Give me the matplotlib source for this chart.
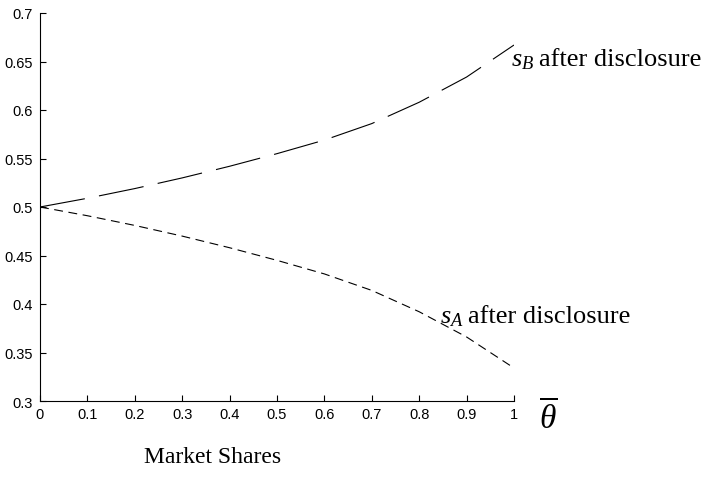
import numpy as np
import matplotlib.pyplot as plt

plt.rcParams['font.family'] = 'Liberation Sans'
plt.rcParams['mathtext.fontset'] = 'custom'
plt.rcParams['mathtext.rm'] = 'Liberation Serif'
plt.rcParams['mathtext.it'] = 'Liberation Serif:italic'

theta = [0.0, 0.1, 0.2, 0.3, 0.4, 0.5, 0.6, 0.7, 0.8, 0.9, 1.0]
s_b = [0.500, 0.509, 0.519, 0.530, 0.542, 0.555, 0.569, 0.586, 0.608, 0.634, 0.667]
s_a = [0.500, 0.491, 0.481, 0.470, 0.458, 0.445, 0.431, 0.414, 0.392, 0.366, 0.334]

xticks = [0, 0.1, 0.2, 0.3, 0.4, 0.5, 0.6, 0.7, 0.8, 0.9, 1]
xlabels = ['0', '0.1', '0.2', '0.3', '0.4', '0.5', '0.6', '0.7', '0.8', '0.9', '1']
yticks = [0.3, 0.35, 0.4, 0.45, 0.5, 0.55, 0.6, 0.65, 0.7]
ylabels = ['0.3', '0.35', '0.4', '0.45', '0.5', '0.55', '0.6', '0.65', '0.7']

fig = plt.figure(figsize=(7.06, 4.81), dpi=100)
ax = fig.add_axes([40/706, 1 - 402/481, 474/706, 388/481])

ax.plot(theta, s_b, color='black', lw=0.8, dashes=(41, 13))
ax.plot(theta, s_a, color='black', lw=0.8, dashes=(8, 5))

ax.set_xlim(0, 1)
ax.set_ylim(0.3, 0.7)
ax.set_xticks(xticks)
ax.set_xticklabels(xlabels)
ax.set_yticks(yticks)
ax.set_yticklabels(ylabels)
ax.tick_params(direction='in', length=4, width=0.8, labelsize=10.5)
ax.tick_params(axis='y', pad=5)
ax.tick_params(axis='x', pad=4)
ax.spines['top'].set_visible(False)
ax.spines['right'].set_visible(False)
for side in ['left', 'bottom']:
    ax.spines[side].set_linewidth(0.8)

# curve labels
ax.text(0.994, 0.646, r'$s_B$', fontsize=19, ha='left', va='baseline')
ax.text(1.053, 0.646, 'after disclosure', family='Liberation Serif', fontsize=19,
        ha='left', va='baseline')
ax.text(0.843, 0.381, r'$s_A$', fontsize=19, ha='left', va='baseline')
ax.text(0.903, 0.381, 'after disclosure', family='Liberation Serif', fontsize=19,
        ha='left', va='baseline')

fig.text(548/706, 1 - 428/481, r'$\overline{\theta}$', fontsize=24, ha='center', va='baseline')
fig.text(213/706, 1 - 463/481, 'Market Shares', family='Liberation Serif', fontsize=17,
         ha='center', va='baseline')

fig.savefig('out.png', dpi=100)
